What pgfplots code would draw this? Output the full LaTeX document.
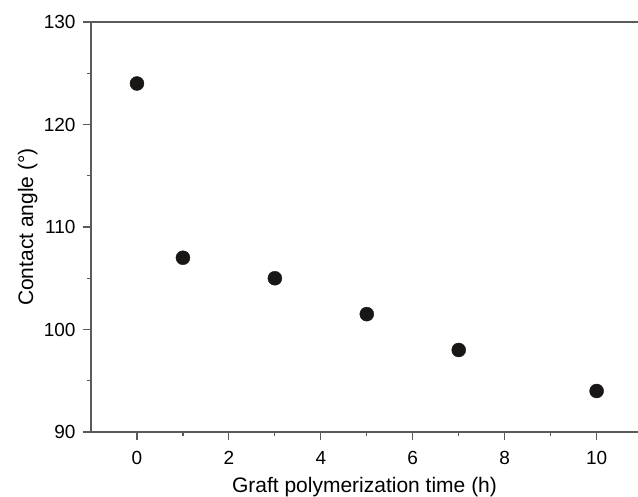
\documentclass[border=0pt]{standalone}
\usepackage{pgfplots}
\pgfplotsset{compat=1.18}
\usepackage{fontspec}
\setmainfont{Liberation Sans}

\definecolor{axisgray}{RGB}{90,90,90}
\definecolor{dotblack}{RGB}{25,22,22}

\begin{document}
\begin{tikzpicture}
\useasboundingbox (-91pt,-65pt) rectangle (547pt,432pt);
\begin{axis}[
at={(0,0)}, anchor=south west,
scale only axis,
width=547pt, height=410pt,
xmin=-1, xmax=10.9,
ymin=90, ymax=130,
axis x line=box,
axis y line*=left,
axis line style={axisgray, line width=1.5pt},
xtick={0,2,4,6,8,10},
minor xtick={1,3,5,7,9},
ytick={90,100,110,120,130},
minor ytick={95,105,115,125},
xtick pos=bottom,
ytick pos=left,
tick align=outside,
major tick length=8pt,
minor tick length=4pt,
every tick/.style={axisgray, line width=1.2pt},
/pgf/number format/assume math mode=true,
tick label style={font=\fontsize{19}{22}\selectfont},
xticklabel style={yshift=-8pt},
yticklabel style={xshift=-4pt},
label style={font=\fontsize{21}{25}\selectfont},
xlabel={Graft polymerization time (h)},
ylabel={Contact angle (°)},
xlabel style={at={(axis description cs:0.5,0)}, anchor=base, yshift=-61pt},
ylabel style={at={(axis description cs:-0.106,0.5)}, anchor=base, rotate=0},
clip=false,
]
\addplot [only marks, mark=*, mark size=7pt, dotblack]
coordinates {
(0,124)
(1,107)
(3,105)
(5,101.5)
(7,98)
(10,94)
};
\end{axis}
\end{tikzpicture}
\end{document}
